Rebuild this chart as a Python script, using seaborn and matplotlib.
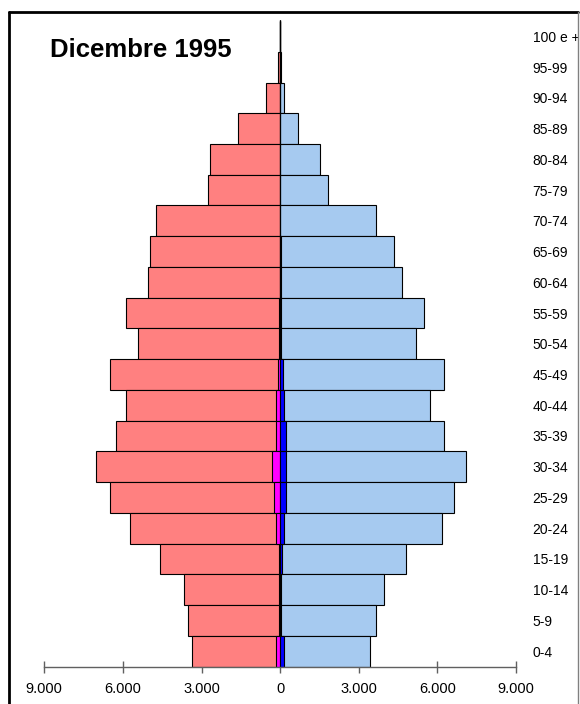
import matplotlib
matplotlib.use("Agg")
import matplotlib.pyplot as plt
from matplotlib.lines import Line2D
import seaborn as sns
import pandas as pd

# Age classes, listed from oldest (top) to youngest (bottom)
ages = ["100 e +", "95-99", "90-94", "85-89", "80-84", "75-79", "70-74", "65-69",
        "60-64", "55-59", "50-54", "45-49", "40-44", "35-39", "30-34", "25-29",
        "20-24", "15-19", "10-14", "5-9", "0-4"]

# Left side (red) totals
left_total = [10, 90, 535, 1590, 2660, 2750, 4740, 4965, 5030, 5880, 5410,
              6495, 5880, 6265, 7030, 6495, 5720, 4585, 3670, 3500, 3360]
# Right side (light blue) totals
right_total = [10, 25, 155, 670, 1530, 1835, 3665, 4355, 4660, 5500, 5195,
               6250, 5730, 6250, 7105, 6645, 6190, 4815, 3975, 3665, 3425]
# Foreign residents, left (magenta) and right (blue)
left_foreign = [0, 1, 2, 3, 5, 8, 10, 15, 20, 25, 40,
                75, 140, 140, 305, 230, 140, 60, 50, 50, 140]
right_foreign = [0, 1, 2, 3, 5, 8, 10, 15, 20, 25, 40,
                 90, 165, 230, 230, 230, 165, 60, 50, 50, 165]

xticks = [-9000, -6000, -3000, 0, 3000, 6000, 9000]
xtick_labels = ["9.000", "6.000", "3.000", "0", "3.000", "6.000", "9.000"]
title = "Dicembre 1995"

sns.set_theme(style="white")
plt.rcParams["font.family"] = ["Liberation Sans", "DejaVu Sans"]
plt.rcParams["text.color"] = "black"
plt.rcParams["xtick.color"] = "#606060"
plt.rcParams["xtick.labelcolor"] = "black"
plt.rcParams["ytick.labelcolor"] = "black"

df = pd.DataFrame({
    "age": ages,
    "left": [-v for v in left_total],
    "right": right_total,
    "left_f": [-v for v in left_foreign],
    "right_f": right_foreign,
})

fig = plt.figure(figsize=(5.8, 7.04), dpi=100)
ax = fig.add_axes([44.3 / 580, 37.5 / 704, (516 - 44.3) / 580, (684.5 - 37.5) / 704])

common = dict(y="age", order=ages, orient="h", width=1.0,
              edgecolor="black", linewidth=0.8, ax=ax)
sns.barplot(data=df, x="left", color="#FF8080", saturation=1, **common)
sns.barplot(data=df, x="right", color="#A6CAF0", saturation=1, **common)
sns.barplot(data=df, x="left_f", color="#FF00FF", saturation=1, **common)
sns.barplot(data=df, x="right_f", color="#0000FF", saturation=1, **common)

ax.axvline(0, color="#202020", lw=1, zorder=0.5)

ax.set_xlim(-9000, 9000)
ax.set_ylim(len(ages) - 0.5, -0.55)
ax.set_xticks(xticks)
ax.set_xticklabels(xtick_labels, fontsize=10.5, color="black")
ax.set_xlabel("")
ax.set_ylabel("")

ax.yaxis.tick_right()
ax.tick_params(axis="y", length=0, pad=12, labelsize=10, labelcolor="black")
for lab in ax.get_yticklabels():
    lab.set_horizontalalignment("left")

for s in ["top", "left", "right"]:
    ax.spines[s].set_visible(False)
ax.spines["bottom"].set_color("#606060")
ax.spines["bottom"].set_linewidth(1)
ax.tick_params(axis="x", bottom=True, direction="inout", length=9, width=1,
               color="#606060", pad=7, labelcolor="black")

fig.text(50 / 580, 1 - 50 / 704, title, fontsize=18.5, fontweight="bold",
         ha="left", va="center", color="black")

# chart frame
fig.add_artist(Line2D([8.5 / 580, 8.5 / 580], [0, 1 - 12 / 704], color="black", lw=2,
                      transform=fig.transFigure))
fig.add_artist(Line2D([8.5 / 580, 578 / 580], [1 - 12 / 704, 1 - 12 / 704], color="black", lw=2,
                      transform=fig.transFigure))
fig.add_artist(Line2D([578 / 580, 578 / 580], [0, 1 - 12 / 704], color="#808080", lw=1,
                      transform=fig.transFigure))

fig.savefig("out.png", dpi=100)
